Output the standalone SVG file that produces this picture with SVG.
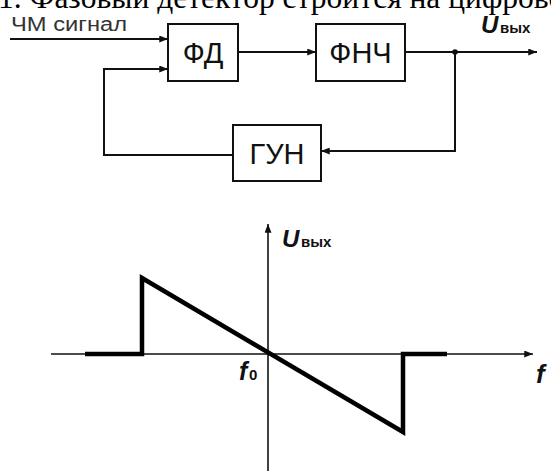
<svg xmlns="http://www.w3.org/2000/svg" width="551" height="471" viewBox="0 0 551 471">
<style>
.box{fill:#fff;stroke:#111;stroke-width:2}
.lbl{font-family:"Liberation Sans",Arial,sans-serif;font-size:29px;fill:#111;text-anchor:middle}
.wire{fill:none;stroke:#111;stroke-width:2}
.axis{fill:none;stroke:#111;stroke-width:1.6}
.curve{fill:none;stroke:#000;stroke-width:4.5;stroke-linejoin:miter}
.sig{font-family:"Liberation Sans",Arial,sans-serif;font-size:20px;fill:#333}
.U{font-family:"Liberation Sans",Arial,sans-serif;font-weight:bold;font-style:italic;fill:#111}
.sub{font-family:"Liberation Sans",Arial,sans-serif;font-weight:bold;fill:#111}
.top{font-family:"Liberation Serif","Times New Roman",serif;font-size:31.5px;fill:#000}
</style>
<defs>
<marker id="arr" viewBox="0 0 10 8" refX="10" refY="4" markerWidth="9" markerHeight="7" markerUnits="userSpaceOnUse" orient="auto">
<path d="M0,0 L10,4 L0,8 Z" fill="#111"/>
</marker>
</defs>
<rect width="551" height="471" fill="#fff"/>
<text class="top" x="-2" y="8">1. Фазовый детектор строится на цифрово</text>

<text class="sig" x="11" y="31" textLength="116" lengthAdjust="spacingAndGlyphs">ЧМ сигнал</text>
<g id="out-label"><text class="U" x="481" y="33" font-size="24">U</text><text class="sub" x="500" y="33" font-size="15">вых</text></g>

<g id="connectors">
<path class="wire" d="M10,39 H168" marker-end="url(#arr)"/>
<path class="wire" d="M233,155 H104 V69 H168" marker-end="url(#arr)"/>
<path class="wire" d="M238,52 H316" marker-end="url(#arr)"/>
<path class="wire" d="M405,52 H537" marker-end="url(#arr)"/>
<path class="wire" d="M455,52 V151 H321" marker-end="url(#arr)"/>
<circle cx="455" cy="52" r="2.8" fill="#111"/>
</g>

<g id="fd"><rect class="box" x="168" y="24" width="70" height="57"/><text class="lbl" x="203" y="63">ФД</text></g>
<g id="fnch"><rect class="box" x="316" y="24" width="89" height="57"/><text class="lbl" x="360.5" y="63">ФНЧ</text></g>
<g id="gun"><rect class="box" x="233" y="125" width="88" height="56"/><text class="lbl" x="277" y="164">ГУН</text></g>

<g id="graph">
<path class="axis" d="M51,354 H533" marker-end="url(#arr)"/>
<path class="axis" d="M268,471 V224" marker-end="url(#arr)"/>
<path class="curve" d="M85,354 H142 V278 L403,432 V354 H447"/>
<text class="U" x="282" y="247" font-size="24">U</text><text class="sub" x="301" y="247" font-size="15">вых</text>
<text class="U" x="239" y="380" font-size="25">f</text><text class="sub" x="249" y="380" font-size="15">0</text>
<text class="U" x="536" y="383" font-size="26">f</text>
</g>
</svg>
